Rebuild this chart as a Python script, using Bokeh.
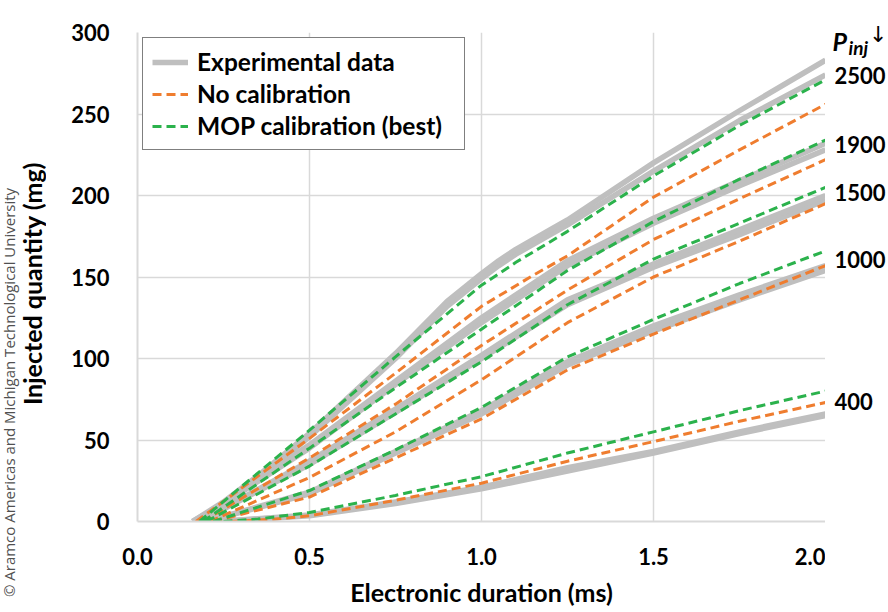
import math

from bokeh.plotting import figure
from bokeh.layouts import row
from bokeh.models import (Legend, LegendItem, FixedTicker, Range1d)
from bokeh.core.properties import value
from bokeh.embed import file_html
from bokeh.resources import INLINE

# ---------------------------------------------------------------------------
# Data: electronic duration (ms) vs injected quantity (mg) per rail pressure
# ---------------------------------------------------------------------------
pressures = ["2500", "1900", "1500", "1000", "400"]

# Experimental data, two repeated injections per pressure
exp_t = [
    [0.16, 0.25, 0.35, 0.50, 0.75, 0.90, 1.00, 1.05, 1.10, 1.20, 1.25, 1.50, 1.75, 2.00],
    [0.17, 0.50, 0.75, 1.00, 1.15, 1.25, 1.50, 1.75, 2.00],
    [0.18, 0.50, 0.75, 1.00, 1.25, 1.50, 1.75, 2.00],
    [0.20, 0.50, 0.75, 1.00, 1.25, 1.50, 1.75, 2.00],
    [0.24, 0.50, 0.75, 1.00, 1.25, 1.50, 1.75, 2.00],
]
exp_q_run1 = [
    [0, 12, 28, 54, 103, 135, 152, 160, 167, 179, 185, 220, 252, 283],
    [0, 47, 86, 125, 146, 160, 186, 209, 232],
    [0, 37, 69, 102, 136, 158, 179, 200],
    [0, 18, 43, 68, 98, 120, 139, 157],
    [0, 4, 12, 21, 33, 43, 55, 66],
]
exp_q_run2 = [
    [0, 11, 26, 52, 100, 132, 149, 157, 164, 176, 182, 215, 246, 274],
    [0, 45, 84, 122, 143, 157, 183, 206, 228],
    [0, 35, 67, 100, 133, 156, 176, 197],
    [0, 17, 42, 66, 96, 117, 136, 154],
    [0, 3.5, 11, 20, 31, 42, 54, 65],
]

# Model without calibration
nocal_t = [
    [0.17, 0.50, 0.75, 1.00, 1.15, 1.25, 1.50, 1.75, 2.00],
    [0.19, 0.50, 0.75, 1.00, 1.25, 1.50, 1.75, 2.00],
    [0.21, 0.50, 0.75, 1.00, 1.25, 1.50, 1.75, 2.00],
    [0.22, 0.50, 0.75, 1.00, 1.25, 1.50, 1.75, 2.00],
    [0.27, 0.40, 0.50, 0.75, 1.00, 1.25, 1.50, 1.75, 2.00],
]
nocal_q = [
    [0, 51, 91, 132, 151, 163, 199, 228, 256],
    [0, 39, 72, 108, 142, 173, 198, 222],
    [0, 27, 55, 87, 122, 150, 172, 195],
    [0, 15, 39, 63, 93, 115, 136, 157],
    [0, 1.5, 3.5, 13, 23.5, 37, 49, 61.5, 73],
]

# Model with MOP calibration (best)
mop_t = [
    [0.18, 0.50, 0.75, 1.00, 1.10, 1.25, 1.50, 1.75, 2.00],
    [0.19, 0.50, 0.75, 1.00, 1.25, 1.50, 1.75, 2.00],
    [0.20, 0.50, 0.75, 1.00, 1.25, 1.50, 1.75, 2.00],
    [0.22, 0.50, 0.75, 1.00, 1.25, 1.50, 1.75, 2.00],
    [0.25, 0.35, 0.50, 0.75, 1.00, 1.25, 1.50, 1.75, 2.00],
]
mop_q = [
    [0, 56, 101, 145, 159, 178, 212, 243, 271],
    [0, 45, 82, 118, 154, 184, 210, 234],
    [0, 34, 66, 98, 133, 161, 183, 205],
    [0, 19, 44, 70, 101, 124, 146, 166],
    [0, 1.5, 5.5, 16, 27.5, 42, 55, 68, 80],
]

x_ticks = [0.0, 0.5, 1.0, 1.5, 2.0]
x_tick_labels = ["0.0", "0.5", "1.0", "1.5", "2.0"]
y_ticks = [0, 50, 100, 150, 200, 250, 300]
y_tick_labels = ["0", "50", "100", "150", "200", "250", "300"]

# ---------------------------------------------------------------------------
# Page geometry: left strip (notice + y title) | main chart | right strip
# ---------------------------------------------------------------------------
PAGE_W, PAGE_H = 888, 612
NOTE_W = 46
SIDE_W = 63
MAIN_W = PAGE_W - NOTE_W - SIDE_W
FRAME_LEFT = 137
BORDER_LEFT = FRAME_LEFT - NOTE_W
BORDER_TOP = 32
BORDER_BOTTOM = 91

FONT = "Lato"
GRAY = "#bfbfbf"
ORANGE = "#ef7d2f"
GREEN = "#2bb24c"
GRID = "#d9d9d9"

X_MIN, X_MAX = 0.0, 2.0
Y_MIN, Y_MAX = 0.0, 300.0


def strip(width, y_range):
    """Plain figure without axes used for the side texts."""
    f = figure(width=width, height=PAGE_H, output_backend="svg",
               toolbar_location=None, x_axis_location=None,
               y_axis_location=None, x_range=Range1d(0, width),
               y_range=y_range, min_border=0, frame_align=False)
    f.outline_line_color = None
    f.grid.visible = False
    f.border_fill_color = "white"
    f.background_fill_color = "white"
    return f


p = figure(width=MAIN_W, height=PAGE_H, output_backend="svg",
           toolbar_location=None, frame_align=False,
           x_range=Range1d(X_MIN, X_MAX), y_range=Range1d(Y_MIN, Y_MAX),
           min_border_left=BORDER_LEFT, min_border_right=0,
           min_border_top=BORDER_TOP, min_border_bottom=BORDER_BOTTOM)
p.outline_line_color = None
p.background_fill_color = "white"
p.border_fill_color = "white"

for ax, ticks, labels in ((p.xaxis, x_ticks, x_tick_labels),
                          (p.yaxis, y_ticks, y_tick_labels)):
    ax.ticker = FixedTicker(ticks=ticks)
    ax.major_label_overrides = dict(zip(ticks, labels))
    ax.major_tick_line_color = None
    ax.minor_tick_line_color = None
    ax.axis_line_color = GRID
    ax.axis_line_width = 2
    ax.major_label_text_font = FONT
    ax.major_label_text_font_style = "bold"
    ax.major_label_text_font_size = "22px"
    ax.major_label_text_color = "black"

p.xaxis.axis_label = "Electronic duration (ms)"
p.xaxis.axis_label_text_font = FONT
p.xaxis.axis_label_text_font_style = "bold"
p.xaxis.axis_label_text_font_size = "25px"
p.xaxis.axis_label_text_color = "black"
p.xaxis.major_label_standoff = 20
p.xaxis.axis_label_standoff = 9
p.yaxis.major_label_standoff = 22

p.xgrid.ticker = FixedTicker(ticks=x_ticks)
p.ygrid.ticker = FixedTicker(ticks=y_ticks)
for g in (p.xgrid, p.ygrid):
    g.grid_line_color = GRID
    g.grid_line_width = 1.5

# experimental curves
exp_renderers = []
for t, q1, q2 in zip(exp_t, exp_q_run1, exp_q_run2):
    for q in (q2, q1):
        r = p.line(t, q, line_color=GRAY, line_width=5.5, line_join="round")
        exp_renderers.append(r)

nocal_renderers = []
for t, q in zip(nocal_t, nocal_q):
    nocal_renderers.append(p.line(t, q, line_color=ORANGE, line_width=3,
                                  line_dash="9 5"))

mop_renderers = []
for t, q in zip(mop_t, mop_q):
    mop_renderers.append(p.line(t, q, line_color=GREEN, line_width=3,
                                line_dash="9 5"))

legend = Legend(items=[
    LegendItem(label="Experimental data", renderers=[exp_renderers[0]]),
    LegendItem(label="No calibration", renderers=[nocal_renderers[0]]),
    LegendItem(label="MOP calibration (best)", renderers=[mop_renderers[0]]),
], location="top_left")
legend.margin = 5
legend.padding = 9
legend.spacing = 3
legend.glyph_width = 36
legend.glyph_height = 26
legend.label_height = 26
legend.label_width = 258
legend.label_standoff = 9
legend.label_text_font = FONT
legend.label_text_font_style = "bold"
legend.label_text_font_size = "24.5px"
legend.label_text_color = "black"
legend.border_line_color = "black"
legend.border_line_width = 1.5
legend.background_fill_color = "white"
legend.background_fill_alpha = 1.0
p.add_layout(legend)

# ---------------------------------------------------------------------------
# Right strip: pressure labels, sharing the main chart's vertical scale
# ---------------------------------------------------------------------------
px_per_unit = (PAGE_H - BORDER_TOP - BORDER_BOTTOM) / (Y_MAX - Y_MIN)
side_y_top = Y_MAX + BORDER_TOP / px_per_unit
side_y_bot = Y_MIN - BORDER_BOTTOM / px_per_unit


def px_down_from_top(px):
    """Vertical position in data units, `px` pixels below the page top."""
    return side_y_top - px / px_per_unit


side = strip(SIDE_W, Range1d(side_y_bot, side_y_top))

# label each pressure level at the mean end value of its curves
nudge = 4 / px_per_unit
end_levels = []
for i in range(len(pressures)):
    ends = [exp_q_run1[i][-1], exp_q_run2[i][-1], nocal_q[i][-1], mop_q[i][-1]]
    end_levels.append(sum(ends) / len(ends) + nudge)

side.text(x=[9] * len(pressures), y=end_levels, text=pressures,
          text_font=value(FONT), text_font_style="bold", text_font_size="22px",
          text_color="black", text_align="left", text_baseline="middle")

# header "P_inj ↓"
side.text(x=[7], y=[px_down_from_top(40)], text=["P"],
          text_font=value(FONT), text_font_style="bold italic",
          text_font_size="25px", text_color="black",
          text_align="left", text_baseline="alphabetic")
side.text(x=[23], y=[px_down_from_top(47)], text=["inj"],
          text_font=value(FONT), text_font_style="bold italic",
          text_font_size="19px", text_color="black",
          text_align="left", text_baseline="alphabetic")
side.text(x=[62], y=[px_down_from_top(34)], text=["\u2193"],
          text_font=value("DejaVu Sans"), text_font_size="22px",
          text_color="black", text_align="right", text_baseline="middle")

# ---------------------------------------------------------------------------
# Left strip: copyright notice and the vertical axis title
# ---------------------------------------------------------------------------
note = strip(NOTE_W, Range1d(0, PAGE_H))
note.text(x=[8], y=[PAGE_H - 392],
          text=["\u00a9 Aramco Americas and Michigan Technological University"],
          angle=math.pi / 2, text_font=value("Open Sans"),
          text_font_size="15px", text_color="#505050",
          text_align="center", text_baseline="middle")
note.text(x=[31], y=[PAGE_H - 283], text=["Injected quantity (mg)"],
          angle=math.pi / 2, text_font=value(FONT), text_font_style="bold",
          text_font_size="25px", text_color="black",
          text_align="center", text_baseline="middle")

layout = row(note, p, side, spacing=0)
open("out.html", "w").write(file_html(layout, INLINE))
